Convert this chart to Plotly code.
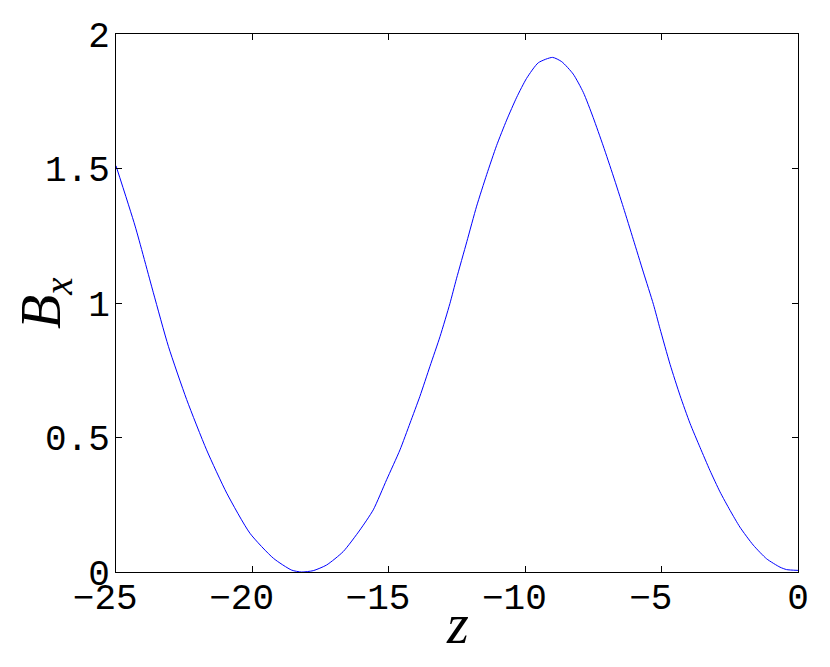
import plotly.graph_objects as go

# values
z_values = [-25.0, -24.3, -23.63, -23.08, -22.41, -21.68, -20.94, -20.09, -19.23,
            -18.56, -18.2, -17.77, -17.28, -16.67, -16.06, -15.57, -15.08, -14.59,
            -14.22, -13.86, -13.49, -13.12, -12.76, -12.52, -12.14, -11.78, -11.41,
            -11.05, -10.68, -10.31, -9.95, -9.52, -9.0, -8.66, -8.24, -7.87, -7.51,
            -7.14, -6.77, -6.4, -6.04, -5.67, -5.3, -5.06, -4.69, -4.32, -3.96,
            -3.59, -3.23, -2.86, -2.49, -2.13, -1.64, -1.15, -0.66, -0.42, 0.0]
bx_values = [1.51, 1.286, 1.038, 0.839, 0.641, 0.454, 0.293, 0.144, 0.051,
             0.007, 0.0, 0.005, 0.026, 0.076, 0.156, 0.231, 0.343, 0.454,
             0.554, 0.653, 0.765, 0.876, 0.998, 1.09, 1.228, 1.36, 1.478,
             1.585, 1.68, 1.765, 1.835, 1.893, 1.913, 1.897, 1.851, 1.783, 1.69,
             1.584, 1.472, 1.355, 1.237, 1.115, 0.995, 0.905, 0.772, 0.655, 0.553,
             0.463, 0.378, 0.298, 0.229, 0.167, 0.1, 0.049, 0.018, 0.009, 0.006]

x_ticks = [-25, -20, -15, -10, -5, 0]
# trailing no-break space keeps the digits centred on the tick (minus hangs left)
x_ticklabels = ["\u221225\u00a0", "\u221220\u00a0", "\u221215\u00a0",
                "\u221210\u00a0", "\u22125\u00a0", "0"]
y_ticks = [0, 0.5, 1, 1.5, 2]
y_ticklabels = ["0", "0.5", "1", "1.5", "2"]

bx_line = go.Scatter(
    x=z_values,
    y=bx_values,
    mode='lines',
    line=dict(color='rgb(0,0,255)', width=1, shape='spline', smoothing=0.6),
    showlegend=False,
)

fig = go.Figure(data=[bx_line])

axis_style = dict(
    showline=True, linecolor='black', linewidth=1, mirror='allticks',
    ticks='inside', ticklen=6, tickcolor='black', tickwidth=1,
    showgrid=False, zeroline=False, automargin=False,
    tickfont=dict(family='Liberation Mono', size=36, color='black'),
)

# page body adds 8px, so the figure is 8px smaller on each side
fig.update_layout(
    width=822, height=659,
    margin=dict(l=108, r=32, t=26, b=95),
    plot_bgcolor='white', paper_bgcolor='white',
    xaxis=dict(range=[-25, 0], tickvals=x_ticks, ticktext=x_ticklabels,
               ticklabelstandoff=-7, **axis_style),
    yaxis=dict(range=[0, 2], tickvals=y_ticks, ticktext=y_ticklabels,
               ticklabelstandoff=-2, **axis_style),
    annotations=[
        dict(text='<i>B</i><sub><i>x</i></sub>', x=-0.104, y=0.5,
             xref='paper', yref='paper', showarrow=False, textangle=-90,
             xanchor='center', yanchor='middle',
             font=dict(family='Liberation Serif', size=56, color='black')),
        dict(text='<i>z</i>', x=0.5, y=-0.097,
             xref='paper', yref='paper', showarrow=False,
             xanchor='center', yanchor='middle',
             font=dict(family='Liberation Serif', size=56, color='black')),
    ],
)

fig.write_html("out.html")
